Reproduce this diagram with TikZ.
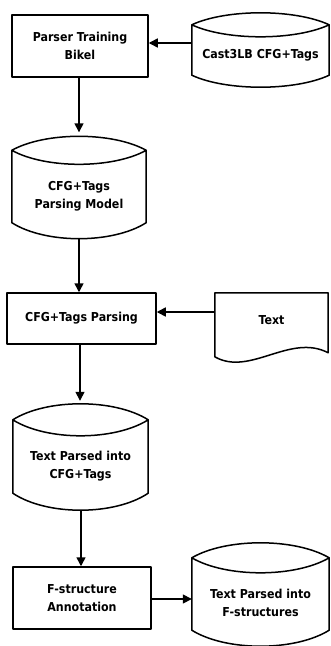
\documentclass[tikz,border=0pt]{standalone}
\usepackage{fontspec}
\setmainfont{DejaVu Sans Condensed}
\usetikzlibrary{arrows.meta,calc}
\begin{document}
\begin{tikzpicture}[x=1pt,y=-1pt,
  ln/.style={line width=1.5pt, line join=round},
  lbl/.style={font=\bfseries\fontsize{12.3}{18}\selectfont, align=center, inner sep=0pt},
  boxnode/.style={ln, draw, inner sep=0pt, font=\bfseries\fontsize{12.3}{18}\selectfont, align=center},
  frame/.style={draw=none, inner sep=0pt},
  arr/.style={ln, -{Triangle[length=9pt,width=9pt]}}]
\useasboundingbox (0,0) rectangle (330,646);
% boxes
\node[boxnode, minimum width=136pt, minimum height=62pt] (train) at (80,46) {Parser Training\\Bikel};
\node[boxnode, minimum width=149pt, minimum height=51pt] (parse) at (81.5,318.5) {CFG+Tags Parsing};
\node[boxnode, minimum width=138pt, minimum height=62pt] (annot) at (82,598) {F-structure\\Annotation};
% cylinder frames (side region)
\node[frame, minimum width=137pt, minimum height=50pt] (cast) at (260.5,50) {};
\node[frame, minimum width=134pt, minimum height=72pt] (model) at (79,186.5) {};
\node[frame, minimum width=135pt, minimum height=73pt] (tcfg) at (80.5,456.5) {};
\node[frame, minimum width=137pt, minimum height=72pt] (tfs) at (260.5,594) {};
% document frame
\node[frame, minimum width=113pt, minimum height=64pt] (text) at (271.5,325) {};
% cylinder outlines
\foreach \c/\t/\b in {cast/12/12, model/14/16, tcfg/16/17, tfs/15/16}{
  \draw[ln] let \p1=(\c.north west), \p2=(\c.north east), \p3=(\c.south west), \p4=(\c.south east),
    \n1={(\x2-\x1)*0.25}, \n2={\t/0.75}, \n3={\b/0.75} in
    (\p1) .. controls ($(\p1)+(\n1,-\n2)$) and ($(\p2)+(-\n1,-\n2)$) .. (\p2)
          .. controls ($(\p2)+(-\n1,\n2)$) and ($(\p1)+(\n1,\n2)$) .. (\p1) -- cycle
    (\p1) -- (\p3) .. controls ($(\p3)+(\n1,\n3)$) and ($(\p4)+(-\n1,\n3)$) .. (\p4) -- (\p2);
}
% document outline
\draw[ln] (text.north west) -- (text.north east) -- ($(text.north east)+(0,60)$)
  .. controls ($(text.north east)+(-38,40)$) and ($(text.north west)+(35,84)$) .. ($(text.north west)+(0,64)$) -- cycle;
% labels
\node[lbl] (castl) at ($(cast.center)+(0,5)$) {Cast3LB CFG+Tags};
\node[lbl] (modell) at ($(model.center)+(0,10)$) {CFG+Tags\\Parsing Model};
\node[lbl] (tcfgl) at ($(tcfg.center)+(0,10)$) {Text Parsed into\\CFG+Tags};
\node[lbl] (tfsl) at ($(tfs.center)+(0,9)$) {Text Parsed into\\F-structures};
\node[lbl] (textl) at ($(text.north)+(0,27)$) {Text};
% connectors
\draw[arr] (cast.west |- 0,43) -- (train.east |- 0,43);
\draw[arr] (train.south -| 79,0) -- ($(model.north -| 79,0)+(0,-18)$);
\draw[arr] ($(model.south -| 79,0)+(0,16)$) -- (parse.north -| 79,0);
\draw[arr] (text.west |- 0,312) -- (parse.east |- 0,312);
\draw[arr] (parse.south -| 80,0) -- ($(tcfg.north -| 80,0)+(0,-19)$);
\draw[arr] ($(tcfg.south -| 81,0)+(0,17)$) -- (annot.north -| 81,0);
\draw[arr] (annot.east |- 0,599) -- (tfs.west |- 0,599);
\end{tikzpicture}
\end{document}
